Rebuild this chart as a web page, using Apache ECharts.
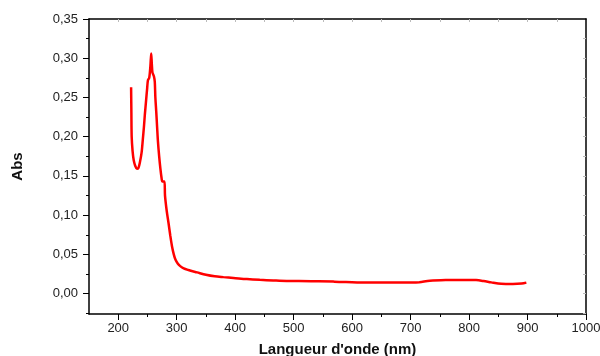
<!DOCTYPE html>
<html>
<head>
<meta charset="utf-8">
<script src="https://cdn.jsdelivr.net/npm/echarts@6/dist/echarts.min.js"></script>
<style>
html,body{margin:0;padding:0;background:#fff;}
#c{width:600px;height:356px;}
</style>
</head>
<body>
<div id="c"></div>
<script>
// Data
var wavelength = [222,222.5,223,224.5,226.5,229,232,234.5,237,240,242,244,245.5,247.5,249.5,250.8,253,255,256.4,257.5,258.5,261,262.5,263.5,265,266.5,268,270,272,274,275.5,279,280,283,286,289,292,295,298,302,306,312,320,335,350,365,380,397,420,442,465,488,530,568,570,600,625,660,704,715,733,760,790,812,825,838,855,875,890,898];
var absorbance = [0.263,0.230,0.200,0.182,0.170,0.163,0.159,0.160,0.167,0.180,0.196,0.213,0.228,0.245,0.262,0.272,0.275,0.290,0.306,0.292,0.282,0.277,0.270,0.250,0.232,0.212,0.193,0.175,0.160,0.148,0.143,0.143,0.125,0.105,0.090,0.074,0.060,0.050,0.043,0.038,0.035,0.032,0.030,0.027,0.024,0.022,0.021,0.020,0.0185,0.0175,0.0168,0.0162,0.0158,0.0155,0.0150,0.0145,0.014,0.014,0.014,0.0145,0.0163,0.0172,0.0174,0.0172,0.016,0.0143,0.0125,0.0122,0.0128,0.014];
var xMajorTicks = [200,300,400,500,600,700,800,900,1000];
var xMinorTicks = [250,350,450,550,650,750,850,950];
var yMajorTicks = [0,0.05,0.10,0.15,0.20,0.25,0.30,0.35];
var yMinorTicks = [-0.025,0.025,0.075,0.125,0.175,0.225,0.275,0.325];
var xTopTicks = [200,250,300,350,400,450,500,550,600,650,700,750,800,850,900,950];
var yRightTicks = [-0.025,0,0.025,0.05,0.075,0.10,0.125,0.15,0.175,0.20,0.225,0.25,0.275,0.30,0.325];
var xName = "Langueur d'onde (nm)";
var yName = "Abs";

var X_MIN = 150, X_MAX = 1000, Y_MIN = -0.026, Y_MAX = 0.35;
var FONT = 'Liberation Sans, Arial, sans-serif';

var pts = wavelength.map(function(w,i){return [w, absorbance[i]];});

var chart = echarts.init(document.getElementById('c'), null, {renderer:'canvas'});
chart.setOption({
  animation:false,
  backgroundColor:'#ffffff',
  grid:{left:89, top:19, right:14, bottom:42, containLabel:false, outerBoundsMode:'none'},
  xAxis:[
    { type:'value', position:'bottom', min:X_MIN, max:X_MAX,
      name:xName, nameLocation:'middle', nameGap:28,
      nameTextStyle:{fontFamily:FONT, fontSize:15, fontWeight:'bold', color:'#111'},
      axisLine:{show:true, onZero:false, lineStyle:{color:'#000', width:1.5}},
      axisTick:{show:true, inside:false, length:6, customValues:xMajorTicks, lineStyle:{color:'#000', width:1}},
      axisLabel:{show:true, margin:8, customValues:xMajorTicks, fontFamily:FONT, fontSize:13, color:'#222',
        formatter:function(v){return String(v);}},
      splitLine:{show:false}
    },
    { type:'value', position:'bottom', min:X_MIN, max:X_MAX,
      axisLine:{show:false, onZero:false},
      axisTick:{show:true, inside:false, length:3, customValues:xMinorTicks, lineStyle:{color:'#000', width:1}},
      axisLabel:{show:false}, splitLine:{show:false}
    },
    { type:'value', position:'top', min:X_MIN, max:X_MAX,
      axisLine:{show:true, onZero:false, lineStyle:{color:'#000', width:1.5}},
      axisTick:{show:true, inside:true, length:3, customValues:xTopTicks, lineStyle:{color:'#bbb', width:1}},
      axisLabel:{show:false}, splitLine:{show:false}
    }
  ],
  yAxis:[
    { type:'value', position:'left', min:Y_MIN, max:Y_MAX,
      name:yName, nameLocation:'middle', nameGap:64,
      nameTextStyle:{fontFamily:FONT, fontSize:15, fontWeight:'bold', color:'#111'},
      axisLine:{show:true, onZero:false, lineStyle:{color:'#000', width:1.5}},
      axisTick:{show:true, inside:false, length:6, customValues:yMajorTicks, lineStyle:{color:'#000', width:1}},
      axisLabel:{show:true, margin:11, customValues:yMajorTicks, fontFamily:FONT, fontSize:13, color:'#222',
        formatter:function(v){return v.toFixed(2).replace('.', ',');}},
      splitLine:{show:false}
    },
    { type:'value', position:'left', min:Y_MIN, max:Y_MAX,
      axisLine:{show:false, onZero:false},
      axisTick:{show:true, inside:false, length:3, customValues:yMinorTicks, lineStyle:{color:'#000', width:1}},
      axisLabel:{show:false}, splitLine:{show:false}
    },
    { type:'value', position:'right', min:Y_MIN, max:Y_MAX,
      axisLine:{show:true, onZero:false, lineStyle:{color:'#000', width:1.5}},
      axisTick:{show:true, inside:true, length:3, customValues:yRightTicks, lineStyle:{color:'#bbb', width:1}},
      axisLabel:{show:false}, splitLine:{show:false}
    }
  ],
  series:[{
    type:'line', xAxisIndex:0, yAxisIndex:0, data:pts,
    showSymbol:false, symbol:'none', smooth:0.3,
    lineStyle:{color:'#ff0000', width:2.5},
    clip:true
  }]
});
</script>
</body>
</html>
